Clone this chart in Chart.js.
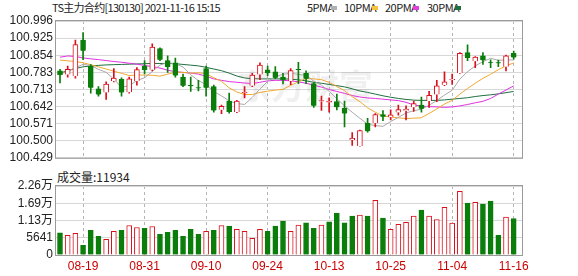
<!DOCTYPE html>
<html>
<head>
<meta charset="utf-8">
<script src="https://cdn.jsdelivr.net/npm/chart.js@4.4.0/dist/chart.umd.min.js"></script>
<style>
body { margin: 0; background: #fff; width: 578px; height: 276px; position: relative; overflow: hidden; font-family: "Noto Sans CJK SC", sans-serif; }
canvas { position: absolute; left: 0; }
#main { top: 0; }
#vol { top: 168px; }
.t { position: absolute; font-size: 11px; line-height: 13px; color: #222; white-space: nowrap; }
.sw { position: absolute; top: 6px; width: 6px; height: 4px; }
</style>
</head>
<body>
<div class="t" style="left:52px;top:1px;letter-spacing:-0.7px">TS主力合约[130130] 2021-11-16 15:15</div>
<div class="t" style="left:307px;top:1px;letter-spacing:-0.5px">5PMA</div><div class="sw" style="left:331px;background:#b0b0b0"></div>
<div class="t" style="left:344px;top:1px;letter-spacing:-0.5px">10PMA</div><div class="sw" style="left:372px;background:#f5c242"></div>
<div class="t" style="left:385px;top:1px;letter-spacing:-0.5px">20PMA</div><div class="sw" style="left:413px;background:#e040e0"></div>
<div class="t" style="left:427px;top:1px;letter-spacing:-0.5px">30PMA</div><div class="sw" style="left:455px;background:#1f6f3f"></div>
<div class="t" style="left:57px;top:170px;font-size:12px;line-height:14px">成交量:11934</div>
<canvas id="main" width="578" height="168"></canvas>
<canvas id="vol" width="578" height="108"></canvas>
<script>
// trading days 2021-08-16 .. 2021-11-16
var dates = ["08-16","08-17","08-18","08-19","08-20","08-23","08-24","08-25","08-26","08-27",
  "08-30","08-31","09-01","09-02","09-03","09-06","09-07","09-08","09-09","09-10",
  "09-13","09-14","09-15","09-16","09-17","09-22","09-23","09-24","09-27","09-28",
  "09-29","09-30","10-08","10-11","10-12","10-13","10-14","10-15","10-18","10-19",
  "10-20","10-21","10-22","10-25","10-26","10-27","10-28","10-29","11-01","11-02",
  "11-03","11-04","11-05","11-08","11-09","11-10","11-11","11-12","11-15","11-16"];

var opens = [100.7896,100.7738,100.7671,100.9171,100.8093,100.7147,100.7000,100.7462,100.7541,100.7012,
  100.7462,100.8093,100.7936,100.8816,100.8315,100.8224,100.7632,100.7290,100.7198,100.7987,
  100.7237,100.6278,100.6645,100.6184,100.6973,100.7277,100.7738,100.7936,100.7857,100.7632,
  100.7474,100.7960,100.7790,100.7367,100.6627,100.6594,100.6618,100.6342,100.5028,100.4779,
  100.5726,100.5726,100.6081,100.5974,100.6172,100.6240,100.6381,100.6476,100.6645,100.6910,
  100.7304,100.7513,100.7802,100.8646,100.8291,100.8512,100.8243,100.8240,100.8066,100.8618];
var highs = [100.7962,100.8093,100.9171,100.9475,100.8157,100.7237,100.7435,100.7987,100.7604,100.7632,
  100.8027,100.8315,100.9013,100.8843,100.8512,100.8421,100.7762,100.7632,100.7502,100.8093,
  100.7304,100.6476,100.6973,100.6673,100.7237,100.7790,100.8224,100.8093,100.8066,100.7790,
  100.7987,100.8251,100.7896,100.7407,100.6843,100.6776,100.6933,100.6645,100.5331,100.5442,
  100.5923,100.6121,100.6251,100.6278,100.6476,100.6448,100.6645,100.6803,100.7040,100.7502,
  100.7857,100.7762,100.8646,100.8973,100.8488,100.8646,100.8354,100.8340,100.8551,100.8709];
var lows = [100.7395,100.7632,100.7592,100.8354,100.6973,100.6843,100.6712,100.7440,100.6843,100.6973,
  100.7304,100.7762,100.7896,100.8315,100.7829,100.7632,100.7237,100.7040,100.7067,100.6843,
  100.6184,100.6121,100.6144,100.6160,100.6776,100.7237,100.7525,100.7699,100.7565,100.7356,
  100.7316,100.7367,100.7367,100.6381,100.6251,100.6184,100.6278,100.5568,100.4803,100.4771,
  100.5355,100.5568,100.5829,100.5856,100.6053,100.5856,100.6211,100.6184,100.6381,100.6618,
  100.7277,100.7328,100.7790,100.8315,100.8027,100.8157,100.8027,100.8070,100.7896,100.8382];
var closes = [100.7723,100.7960,100.8985,100.8725,100.7198,100.6910,100.7344,100.7592,100.7000,100.7565,
  100.7950,100.7930,100.8883,100.8354,100.8054,100.7699,100.7277,100.7265,100.7170,100.7198,
  100.6251,100.6420,100.6184,100.6645,100.7000,100.7723,100.8133,100.7790,100.7604,100.7513,
  100.7908,100.7930,100.7565,100.6448,100.6658,100.6627,100.6381,100.6121,100.5095,100.5422,
  100.5395,100.6081,100.5987,100.6073,100.6290,100.6310,100.6539,100.6318,100.6882,100.7277,
  100.7435,100.7541,100.8618,100.8430,100.8460,100.8330,100.8225,100.8205,100.8512,100.8449];

var ma5 = [100.776,100.786,100.803,100.816,100.8118,100.7956,100.7832,100.7554,100.7209,100.7282,
  100.7490,100.7607,100.7866,100.8136,100.8234,100.8184,100.8053,100.7730,100.7493,100.7322,
  100.7032,100.6861,100.6645,100.6540,100.6500,100.6794,100.7137,100.7458,100.7650,100.7753,
  100.7790,100.7749,100.7704,100.7473,100.7302,100.7046,100.6736,100.6447,100.6176,100.5929,
  100.5683,100.5623,100.5596,100.5792,100.5965,100.6148,100.6240,100.6306,100.6468,100.6665,
  100.6890,100.7091,100.7551,100.7860,100.8097,100.8276,100.8413,100.8330,100.8346,100.8344];
var ma10 = [100.834,100.831,100.828,100.823,100.815,100.806,100.797,100.788,100.779,100.7700,
  100.7723,100.7720,100.7710,100.7673,100.7758,100.7837,100.7830,100.7798,100.7815,100.7778,
  100.7608,100.7457,100.7188,100.7017,100.6911,100.6913,100.6999,100.7052,100.7095,100.7127,
  100.7292,100.7443,100.7581,100.7562,100.7528,100.7418,100.7243,100.7076,100.6825,100.6616,
  100.6365,100.6180,100.6022,100.5984,100.5947,100.5916,100.5932,100.5951,100.6130,100.6315,
  100.6519,100.6666,100.6929,100.7164,100.7381,100.7583,100.7752,100.7941,100.8103,100.8221];
var ma20 = [100.846,100.851,100.849,100.843,100.839,100.836,100.832,100.828,100.825,100.821,
  100.817,100.812,100.807,100.801,100.792,100.786,100.783,100.780,100.776,100.767,
  100.756,100.750,100.745,100.742,100.739,100.737,100.742,100.748,100.750,100.750,
  100.748,100.744,100.738,100.730,100.722,100.712,100.704,100.696,100.687,100.681,
  100.677,100.675,100.672,100.669,100.666,100.659,100.648,100.643,100.641,100.640,
  100.638,100.640,100.644,100.650,100.657,100.663,100.675,100.693,100.710,100.727];
var ma30 = [100.780,100.790,100.799,100.806,100.810,100.812,100.814,100.815,100.816,100.817,
  100.818,100.819,100.820,100.820,100.820,100.819,100.816,100.813,100.810,100.804,
  100.797,100.790,100.780,100.768,100.760,100.757,100.756,100.756,100.756,100.756,
  100.755,100.752,100.748,100.742,100.738,100.733,100.728,100.723,100.715,100.706,
  100.700,100.693,100.686,100.680,100.675,100.671,100.668,100.667,100.667,100.667,
  100.669,100.672,100.675,100.678,100.683,100.687,100.690,100.694,100.699,100.704];

var volumes = [7230,6460,7120,3180,8100,6130,5150,7770,8100,9640,
  8980,8760,9310,6790,7450,8100,6130,8430,6790,7770,
  8100,9640,9420,8430,7770,5480,8430,7770,9420,11060,
  7770,9750,10510,8760,9750,10840,13690,10510,12700,13030,
  12700,17850,12050,8430,10070,10700,12700,14670,12700,11610,
  15550,10400,20800,16970,17190,16640,17630,6460,12370,11934];

var priceTicks = [100.429,100.500,100.571,100.642,100.713,100.783,100.854,100.925,100.996];
var volTicks = [0,5641,11282,16923,22564];
var volTickLabels = ["0","5641","1.13万","1.69万","2.26万"];
var labelIdx = [3,11,19,27,35,43,51,59];

var RED = "#d8101c";
var GREEN = "#0a7d0a";

// candle colours: up = close >= open
var candleCol = [], bodyFill = [], wicks = [], bodies = [];
for (var i = 0; i < dates.length; i++) {
    var up = closes[i] >= opens[i];
    candleCol.push(up ? RED : GREEN);
    bodyFill.push(up ? "#ffffff" : GREEN);
    wicks.push({x: i, y: [lows[i], highs[i]]});
    bodies.push({x: i, y: [Math.min(opens[i], closes[i]), Math.max(opens[i], closes[i])]});
}

// volume colours follow the change against the previous close
var volCol = [], volFill = [], volData = [];
for (var i = 0; i < volumes.length; i++) {
    var prev = i == 0 ? opens[0] : closes[i - 1];
    var up = closes[i] >= prev;
    volCol.push(up ? RED : GREEN);
    volFill.push(up ? "#ffffff" : GREEN);
    volData.push({x: i, y: volumes[i]});
}

function pts(arr) {
    return arr.map(function (v, i) { return {x: i, y: v}; });
}

function maLine(label, arr, color) {
    return {type: "line", label: label, data: pts(arr), borderColor: color, borderWidth: 1,
            pointRadius: 0, tension: 0, order: 5};
}

var frame = {
    id: "frame",
    afterDraw: function (chart) {
        var a = chart.chartArea, ctx = chart.ctx;
        ctx.save();
        ctx.strokeStyle = "#9a9a9a";
        ctx.lineWidth = 1;
        ctx.strokeRect(a.left - 0.5, a.top - 0.5, a.right - a.left + 1, a.bottom - a.top + 1);
        ctx.restore();
    }
};

var watermark = {
    id: "watermark",
    beforeDatasetsDraw: function (chart) {
        var ctx = chart.ctx;
        ctx.save();
        ctx.font = "bold 34px 'Noto Sans CJK SC'";
        ctx.fillStyle = "rgba(0,0,0,0.06)";
        ctx.textAlign = "center";
        ctx.textBaseline = "middle";
        ctx.fillText("东方财富", 305, 86);
        ctx.restore();
    }
};

var xCommon = {
    type: "linear", min: -0.52, max: 60.08, offset: false,
    afterBuildTicks: function (s) { s.ticks = labelIdx.map(function (v) { return {value: v}; }); },
    grid: {color: "#b4b4b4", drawTicks: false, offset: false},
    border: {display: false, dash: [3, 3]}
};

new Chart("main", {
    type: "bar",
    data: {
        datasets: [
            maLine("5PMA", ma5, "#a8a8a8"),
            maLine("10PMA", ma10, "#f0a830"),
            maLine("20PMA", ma20, "#e030e0"),
            maLine("30PMA", ma30, "#1f6f3f"),
            {label: "wick", data: wicks, backgroundColor: candleCol, barThickness: 1, grouped: false, order: 2},
            {label: "body", data: bodies, backgroundColor: bodyFill, borderColor: candleCol, borderWidth: 1,
             barThickness: 5, grouped: false, order: 1}
        ]
    },
    options: {
        responsive: false,
        animation: false,
        layout: {padding: {top: 21, right: 56, bottom: 3, left: 0}},
        plugins: {legend: {display: false}, tooltip: {enabled: false}},
        scales: {
            x: Object.assign({}, xCommon, {
                ticks: {display: false},
                afterFit: function (s) { s.height = 0; }
            }),
            y: {
                min: 100.429, max: 100.996, beginAtZero: false,
                afterBuildTicks: function (s) { s.ticks = priceTicks.map(function (v) { return {value: v}; }); },
                afterFit: function (s) { s.width = 56; },
                ticks: {callback: function (v) { return v.toFixed(3); }, padding: 3, color: "#222", autoSkip: false,
                        font: {size: 12, family: "'Liberation Sans', Arial, sans-serif"}},
                grid: {color: "#d8d8d8", drawTicks: false},
                border: {display: false}
            }
        }
    },
    plugins: [watermark, frame]
});

new Chart("vol", {
    type: "bar",
    data: {
        datasets: [
            {label: "volume", data: volData, backgroundColor: volFill, borderColor: volCol, borderWidth: 1,
             barThickness: 5, grouped: false}
        ]
    },
    options: {
        responsive: false,
        animation: false,
        layout: {padding: {top: 18, right: 56, bottom: 0, left: 0}},
        plugins: {legend: {display: false}, tooltip: {enabled: false}},
        scales: {
            x: Object.assign({}, xCommon, {
                ticks: {display: true, autoSkip: false, maxRotation: 0, padding: 4, color: "#cc0000",
                        font: {size: 12, family: "'Liberation Sans', Arial, sans-serif"},
                        callback: function (v) { return dates[v]; }},
                afterFit: function (s) { s.height = 21; }
            }),
            y: {
                min: 0, max: 22564,
                afterBuildTicks: function (s) { s.ticks = volTicks.map(function (v) { return {value: v}; }); },
                afterFit: function (s) { s.width = 56; },
                ticks: {callback: function (v, idx) { return volTickLabels[idx]; }, padding: 3, color: "#222",
                        autoSkip: false,
                        font: {size: 12, family: "'Liberation Sans', 'Noto Sans CJK SC', sans-serif"}},
                grid: {color: "#d8d8d8", drawTicks: false},
                border: {display: false}
            }
        }
    },
    plugins: [frame]
});
</script>
</body>
</html>
